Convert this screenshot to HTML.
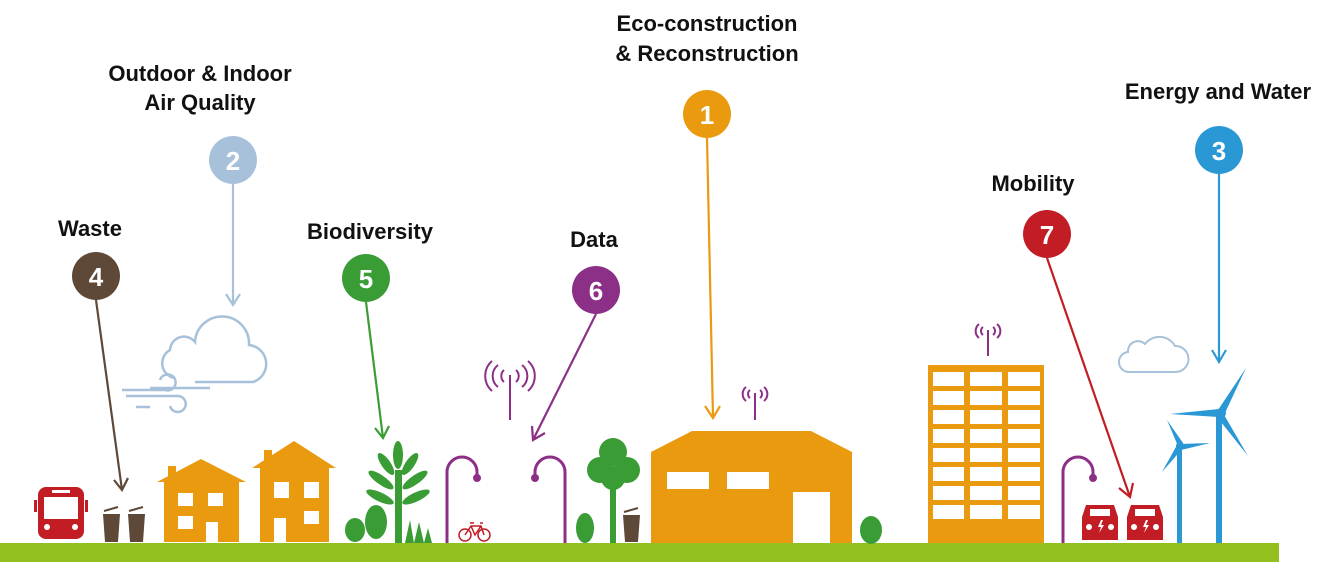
<!DOCTYPE html>
<html><head><meta charset="utf-8"><style>
html,body{margin:0;padding:0;background:#fff;width:1336px;height:564px;overflow:hidden}
text{font-family:"Liberation Sans",sans-serif;font-weight:bold}
</style></head><body>
<svg width="1336" height="564" viewBox="0 0 1336 564" xmlns="http://www.w3.org/2000/svg">
<rect x="0" y="543" width="1279" height="19" fill="#93c01f"/>
<g font-size="22" fill="#111" text-anchor="middle">
<text x="707" y="31">Eco-construction</text>
<text x="707" y="61">&amp; Reconstruction</text>
<text x="200" y="81">Outdoor &amp; Indoor</text>
<text x="200" y="110">Air Quality</text>
<text x="1218" y="99">Energy and Water</text>
<text x="1033" y="191">Mobility</text>
<text x="90" y="236">Waste</text>
<text x="370" y="239">Biodiversity</text>
<text x="594" y="247">Data</text>
</g>
<g stroke-width="2.2" fill="none">
<line x1="707" y1="138" x2="713" y2="418" stroke="#e99a0f"/><path d="M705,406 L713,418 L720,406" stroke="#e99a0f"/>
<line x1="233" y1="184" x2="233" y2="305" stroke="#a6c1d9"/><path d="M226,294 L233,305 L240,294" stroke="#a6c1d9"/>
<line x1="1219" y1="174" x2="1219" y2="362" stroke="#2b98d6"/><path d="M1212,350 L1219,362 L1226,350" stroke="#2b98d6"/>
<line x1="96" y1="300" x2="122" y2="490" stroke="#5e4838"/><path d="M114,480 L122,490 L128,478" stroke="#5e4838"/>
<line x1="366" y1="302" x2="383" y2="438" stroke="#3a9c35"/><path d="M375,428 L383,438 L389,426" stroke="#3a9c35"/>
<line x1="596" y1="314" x2="533" y2="440" stroke="#8b2f87"/><path d="M532,426 L533,440 L545,433" stroke="#8b2f87"/>
<line x1="1047" y1="258" x2="1130" y2="497" stroke="#c21d24"/><path d="M1119,488 L1130,497 L1133,483" stroke="#c21d24"/>
</g>
<g font-size="26" fill="#fff" text-anchor="middle">
<circle cx="707" cy="114" r="24" fill="#e99a0f"/><text x="707" y="124">1</text>
<circle cx="233" cy="160" r="24" fill="#a6c1d9"/><text x="233" y="170">2</text>
<circle cx="1219" cy="150" r="24" fill="#2b98d6"/><text x="1219" y="160">3</text>
<circle cx="96" cy="276" r="24" fill="#5e4838"/><text x="96" y="286">4</text>
<circle cx="366" cy="278" r="24" fill="#3a9c35"/><text x="366" y="288">5</text>
<circle cx="596" cy="290" r="24" fill="#8b2f87"/><text x="596" y="300">6</text>
<circle cx="1047" cy="234" r="24" fill="#c21d24"/><text x="1047" y="244">7</text>
</g>
<g stroke="#a6c1d9" stroke-width="2.5" fill="none">
<path d="M175,378 A15,15 0 0 1 170,350 A14,14 0 0 1 195,342 A27,27 0 0 1 249,345 A19,19 0 0 1 253,382 L195,382"/>
<path d="M150,388 L210,388 M122,390 L165,390 A8,8 0 1 0 160,380"/>
<path d="M126,396 L178,396 A8,8 0 1 1 170,406 M136,407 L150,407"/>
<path d="M1130,372 A10,10 0 0 1 1128,352 A10,10 0 0 1 1145,344 A18,18 0 0 1 1175,346 A12,12 0 0 1 1176,372 Z" stroke-width="2"/>
</g>
<rect x="38" y="487" width="46" height="52" rx="8" fill="#c21d24"/>
<rect x="44" y="497" width="34" height="22" fill="#fff"/>
<rect x="52" y="490" width="18" height="3" fill="#fff"/>
<circle cx="47" cy="527" r="3" fill="#fff"/><circle cx="75" cy="527" r="3" fill="#fff"/>
<rect x="34" y="500" width="3" height="12" fill="#c21d24"/><rect x="85" y="500" width="3" height="12" fill="#c21d24"/>
<g fill="#5e4838">
<path d="M103,514 h17 l-2,28 h-13 z"/><path d="M128,514 h17 l-2,28 h-13 z"/><path d="M623,515 h17 l-2,27 h-13 z"/>
<path d="M104,511 l14,-4 M129,511 l14,-4 M624,512 l14,-4" stroke="#5e4838" stroke-width="2"/>
</g>
<g fill="#e99a0f">
<path d="M157,482 L201,459 L246,482 L239,482 L239,542 L164,542 L164,482 Z"/><rect x="168" y="466" width="8" height="14"/>
<path d="M252,468 L294,441 L336,468 L329,468 L329,542 L260,542 L260,468 Z"/><rect x="264" y="450" width="8" height="16"/>
</g>
<g fill="#fff">
<rect x="178" y="493" width="15" height="13"/><rect x="208" y="493" width="15" height="13"/><rect x="178" y="516" width="15" height="13"/><rect x="206" y="522" width="12" height="20"/>
<rect x="274" y="482" width="15" height="16"/><rect x="304" y="482" width="15" height="16"/><rect x="304" y="511" width="15" height="13"/><rect x="274" y="518" width="12" height="24"/>
</g>
<g fill="#3a9c35">
<ellipse cx="355" cy="530" rx="10" ry="12"/><ellipse cx="376" cy="522" rx="11" ry="17"/>
<rect x="395" y="470" width="7" height="73"/>
<ellipse cx="398" cy="455" rx="5" ry="14"/>
<ellipse cx="386" cy="464" rx="4.5" ry="13" transform="rotate(-35 386 464)"/>
<ellipse cx="410" cy="464" rx="4.5" ry="13" transform="rotate(35 410 464)"/>
<ellipse cx="381" cy="480" rx="4.5" ry="15" transform="rotate(-55 381 480)"/>
<ellipse cx="415" cy="480" rx="4.5" ry="15" transform="rotate(55 415 480)"/>
<ellipse cx="380" cy="497" rx="4.5" ry="15" transform="rotate(-65 380 497)"/>
<ellipse cx="416" cy="497" rx="4.5" ry="15" transform="rotate(65 416 497)"/>
<path d="M405,543 L410,520 L414,543 L419,522 L424,543 L428,528 L432,543 Z"/>
<circle cx="613" cy="452" r="14"/><circle cx="600" cy="470" r="13"/><circle cx="627" cy="470" r="13"/><circle cx="613" cy="478" r="12"/>
<rect x="610" y="480" width="6" height="63"/>
<ellipse cx="585" cy="528" rx="9" ry="15"/>
<ellipse cx="871" cy="530" rx="11" ry="14"/>
</g>
<g stroke="#c21d24" stroke-width="1.5" fill="none">
<circle cx="465" cy="535" r="6"/><circle cx="484" cy="535" r="6"/>
<path d="M465,535 L471,526 L481,526 L484,535 M471,526 L475,535 L481,526 M470,523 h4 M480,523 h3"/>
</g>
<g stroke="#8b2f87" stroke-width="3" fill="none">
<path d="M447,543 V472 A15,15 0 0 1 477,472 V478"/>
<path d="M565,543 V472 A15,15 0 0 0 535,472 V478"/>
<path d="M1063,543 V472 A15,15 0 0 1 1093,472 V478"/>
</g>
<g fill="#8b2f87"><circle cx="477" cy="478" r="4"/><circle cx="535" cy="478" r="4"/><circle cx="1093" cy="478" r="4"/></g>
<g stroke="#8b2f87" stroke-width="2" fill="none">
<path d="M510,375 V420 M504,370 a8,8 0 0 0 0,12 M516,370 a8,8 0 0 1 0,12 M498,365 a14,14 0 0 0 0,22 M522,365 a14,14 0 0 1 0,22 M492,361 a20,20 0 0 0 0,30 M528,361 a20,20 0 0 1 0,30"/>
<path d="M755,393 V420 M750,390 a5,5 0 0 0 0,8 M760,390 a5,5 0 0 1 0,8 M746,387 a9,9 0 0 0 0,14 M764,387 a9,9 0 0 1 0,14"/>
<path d="M988,330 V356 M983,327 a5,5 0 0 0 0,8 M993,327 a5,5 0 0 1 0,8 M979,324 a9,9 0 0 0 0,14 M997,324 a9,9 0 0 1 0,14"/>
</g>
<path d="M651,452 L692,431 L811,431 L852,452 L852,543 L651,543 Z" fill="#e99a0f"/>
<rect x="667" y="472" width="42" height="17" fill="#fff"/><rect x="727" y="472" width="42" height="17" fill="#fff"/><rect x="793" y="492" width="37" height="51" fill="#fff"/>
<rect x="928" y="365" width="116" height="178" fill="#e99a0f"/>
<g fill="#fff">
<rect x="933" y="372" width="31" height="14"/><rect x="970" y="372" width="32" height="14"/><rect x="1008" y="372" width="32" height="14"/>
<rect x="933" y="391" width="31" height="14"/><rect x="970" y="391" width="32" height="14"/><rect x="1008" y="391" width="32" height="14"/>
<rect x="933" y="410" width="31" height="14"/><rect x="970" y="410" width="32" height="14"/><rect x="1008" y="410" width="32" height="14"/>
<rect x="933" y="429" width="31" height="14"/><rect x="970" y="429" width="32" height="14"/><rect x="1008" y="429" width="32" height="14"/>
<rect x="933" y="448" width="31" height="14"/><rect x="970" y="448" width="32" height="14"/><rect x="1008" y="448" width="32" height="14"/>
<rect x="933" y="467" width="31" height="14"/><rect x="970" y="467" width="32" height="14"/><rect x="1008" y="467" width="32" height="14"/>
<rect x="933" y="486" width="31" height="14"/><rect x="970" y="486" width="32" height="14"/><rect x="1008" y="486" width="32" height="14"/>
<rect x="933" y="505" width="31" height="14"/><rect x="970" y="505" width="32" height="14"/><rect x="1008" y="505" width="32" height="14"/>
</g>
<g fill="#c21d24">
<path d="M1086,505 h28 l4,12 v23 h-36 v-23 z"/><path d="M1131,505 h28 l4,12 v23 h-36 v-23 z"/>
</g>
<g fill="#fff">
<rect x="1090" y="509" width="20" height="7"/><rect x="1135" y="509" width="20" height="7"/>
<circle cx="1089" cy="527" r="3"/><circle cx="1111" cy="527" r="3"/><circle cx="1134" cy="527" r="3"/><circle cx="1156" cy="527" r="3"/>
<path d="M1101,520 l-3,7 h3 l-2,6 l5,-8 h-3 l2,-5 z"/><path d="M1146,520 l-3,7 h3 l-2,6 l5,-8 h-3 l2,-5 z"/>
</g>
<g fill="#2b98d6">
<rect x="1177" y="446" width="5" height="97"/>
<rect x="1216" y="413" width="6" height="130"/>
<path d="M1218,410 L1246,368 L1225,413 Z"/><path d="M1223,413 L1248,456 L1217,417 Z"/><path d="M1219,409 L1170,414 L1219,417 Z"/>
<path d="M1178,446 L1167,420 L1183,443 Z"/><path d="M1180,444 L1210,443 L1181,450 Z"/><path d="M1177,445 L1162,472 L1183,448 Z"/>
<circle cx="1221" cy="413" r="5"/><circle cx="1180" cy="446" r="4"/>
</g>
</svg>
</body></html>
